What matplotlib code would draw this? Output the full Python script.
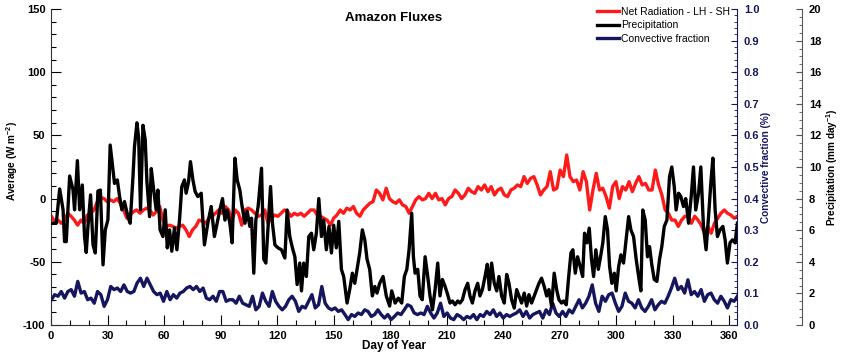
import numpy as np
import matplotlib
matplotlib.use("Agg")
import matplotlib.pyplot as plt
from matplotlib.ticker import MultipleLocator

plt.rcParams['font.family'] = ['Liberation Sans', 'DejaVu Sans']
plt.rcParams['mathtext.fontset'] = 'custom'
plt.rcParams['mathtext.rm'] = 'Liberation Sans:bold'
plt.rcParams['mathtext.default'] = 'rm'

# ---------------- data ----------------
# Net Radiation - LH - SH (W m-2), roughly every 1.75 days
net_rad = [
    -14, -18, -17, -19.5, -17, -11.6, -14, -17, -21, -17, -19.5, -13, -11.6, -9, -2.4, 1, 0, -2.4,
    -1, -2.4, 0, -3.7, -9, -15.5, -13, -10.3, -9, -11.6, -9, -7.6, -9, -13, -10.3, -6.3, -17, -22,
    -21, -22, -23.4, -22, -21, -24.7, -30, -24.7, -22, -17, -18, -19.5, -15.5, -14, -11.6,
    -9, -11.6, -6.3, -9, -17, -9, -11.6, -21, -9, -7.6, -9, -11.6, -14, -13, -9, -19.5, -15.5, -13,
    -14, -11.6, -9, -10.3, -14, -11.6, -13, -11.6, -14, -11.6, -9, -9, -13, -14, -15.5, -17, -21,
    -15.5, -13, -9, -11.6, -7.6, -9, -6.3, -11.6, -14, -9, -6.3, -3.7, -2.4, 6.8, 4.2, -1, 8.2,
    0, -2.4, -3.7, -1, -5, -6.3, -11.6, -6.3, -1, 1.6, -1, 0, 4.2, 0, 4.2, -1, 0, -5, 0, 1.6, 6.8,
    4.2, 0, 2.9, 8.2, 5.5, 4.2, 9.5, 6.8, 10.8, 5.5, 9.5, 2.9, 6.8, 8.2, 2.9, 1.6, 6.8, 8.2, 10.8,
    9.5, 17.4, 12, 16, 17.4, 10.8, 2.9, 6.8, 9.5, 21.3, 6.8, 8.2, 22.6,
    17.4, 34.5, 17.4, 13.4, 14.7, 6.8, 21.3, 13.4, -9, 6.8, 20, 6.8, 8.2, 1.6, -7.6, 9.5, 13.4, 0,
    9.5, 6.8, 13.4, 5.5, 12, 17.4, 10.8, 12, 6.8, 6.8, 22.6, 10.8, 2.9, -9, -11.6, -17, -17, -22,
    -17, -14, -14, -19.5, -14, -17, -21, -27.4, -22, -27.4, -19.5, -15.5, -11.6, -9, -11.6, -13,
    -15.5, -14,
]
net_rad_days = np.linspace(0.2, 364.2, len(net_rad))

# Convective fraction, roughly every 1.75 days
conv_frac = [
    0.080, 0.096, 0.091, 0.106, 0.085, 0.106, 0.112, 0.091, 0.138, 0.101, 0.106, 0.080, 0.085,
    0.069, 0.106, 0.096, 0.059, 0.080, 0.122, 0.112, 0.117, 0.106, 0.127, 0.106, 0.101, 0.106,
    0.133, 0.148, 0.122, 0.148, 0.127, 0.106, 0.096, 0.101, 0.075, 0.106, 0.080, 0.096, 0.085,
    0.101, 0.106, 0.117, 0.122, 0.112, 0.122, 0.106, 0.117, 0.085, 0.080, 0.091, 0.075, 0.106,
    0.106, 0.075, 0.080, 0.080, 0.069, 0.091, 0.069, 0.064, 0.059, 0.091, 0.048, 0.059, 0.101,
    0.075, 0.059, 0.106, 0.075, 0.059, 0.048, 0.059, 0.080, 0.091, 0.075, 0.043, 0.059, 0.054,
    0.075, 0.096, 0.054, 0.064, 0.122, 0.069, 0.054, 0.048, 0.054, 0.043, 0.048, 0.033, 0.017,
    0.033, 0.027, 0.038, 0.033, 0.048, 0.043, 0.027, 0.033, 0.048, 0.033, 0.022, 0.033, 0.017,
    0.027, 0.038, 0.033, 0.048, 0.064, 0.059, 0.038, 0.033, 0.038, 0.033, 0.059, 0.038, 0.022,
    0.038, 0.069, 0.027, 0.038, 0.022, 0.017, 0.033, 0.027, 0.017, 0.027, 0.022, 0.033, 0.017,
    0.033, 0.027, 0.043, 0.033, 0.048, 0.027, 0.038, 0.022, 0.033, 0.027, 0.033, 0.038, 0.048,
    0.027, 0.043, 0.022, 0.033, 0.038, 0.043, 0.022, 0.048, 0.033, 0.069, 0.038, 0.027, 0.043,
    0.027, 0.048, 0.038, 0.059, 0.080, 0.054, 0.069, 0.091, 0.127, 0.069, 0.043, 0.091, 0.075,
    0.096, 0.101, 0.069, 0.043, 0.059, 0.101, 0.075, 0.069, 0.054, 0.080, 0.054, 0.043, 0.059,
    0.080, 0.048, 0.064, 0.075, 0.069, 0.091, 0.117, 0.148, 0.112, 0.122, 0.101, 0.143, 0.096,
    0.106, 0.091, 0.112, 0.075, 0.096, 0.101, 0.080, 0.069, 0.091, 0.075, 0.054, 0.080, 0.075,
    0.091,
]
conv_days = np.linspace(0.2, 364.2, len(conv_frac))

# Precipitation (mm day-1)
precip_days = [
    0.2, 2.8, 4.6, 6.4, 7.2, 8.1, 9.9, 11.7, 12.5, 14.0, 15.2, 16.6, 17.8, 18.7, 19.6, 21.0, 22.3,
    23.5, 24.9, 26.2, 27.6, 28.8, 30.2, 31.4, 32.9, 33.7, 35.2, 36.4, 37.6, 39.0, 40.8, 42.0, 43.5,
    44.3, 45.6, 46.5, 47.5, 48.8, 50.0, 50.9, 52.3, 53.2, 54.4, 55.8, 56.7, 57.9, 59.4, 60.6, 61.7,
    62.9, 64.1, 65.5, 66.8, 68.2, 69.4, 70.8, 71.7, 73.0, 74.0, 75.3, 76.5, 77.9, 79.7, 81.4, 83.2,
    85.0, 86.7, 88.5,
    89.6, 91.0, 92.3, 93.5, 94.9, 96.1, 97.6, 98.8, 100.2, 101.4, 102.9, 104.1, 105.5, 106.4, 107.6,
    108.7, 109.9, 111.7, 112.9, 114.0, 115.2, 116.5, 117.5, 118.8, 120.5, 122.3, 124.1, 125.3,
    126.7, 128.1, 129.4, 130.6, 132.0, 132.9, 134.1, 135.5, 136.8, 138.2, 139.4, 140.8, 142.1,
    143.5, 144.7, 146.1, 147.5, 148.8, 150.0, 151.4, 152.7, 154.1, 155.3, 157.1, 158.5, 159.9,
    161.2, 162.4, 163.8, 165.2, 166.5, 167.7, 169.1, 170.5, 171.8, 173.0, 174.4, 176.2, 177.9, 179.7,
    180.8, 182.6, 184.3, 186.1, 187.5, 188.8, 190.0, 191.4, 192.3, 193.2, 194.6, 195.8, 197.0,
    198.5, 199.9, 201.1, 202.4, 203.8, 205.2, 206.4, 207.7, 209.1, 210.5, 211.7, 213.0, 214.4,
    215.8, 217.0, 218.3, 219.7, 221.1, 222.3, 223.6, 225.0, 226.4, 227.6, 228.9, 230.3, 231.5,
    232.6, 233.8, 235.2, 236.5, 237.7, 239.1, 240.5, 241.8, 243.0, 244.4, 245.8, 247.1, 248.3,
    249.7, 251.1, 252.4, 253.6, 255.0, 256.4, 257.7, 258.9, 260.3, 261.7, 263.0, 264.2, 265.6,
    267.0, 268.3, 269.5, 270.9,
    272.0, 273.4, 274.7, 275.9, 276.9, 278.2, 279.4, 280.8, 282.1, 283.1, 284.4, 285.6, 286.8,
    287.9, 289.1, 290.4, 291.6, 292.8, 294.1, 295.3, 296.4, 297.6, 298.9, 299.9, 301.2, 302.4,
    303.8, 305.0, 306.5, 307.7, 309.1, 310.5, 311.8, 313.0, 314.0, 315.3, 316.5, 317.6, 318.8,
    320.1, 321.5, 322.9, 324.1, 325.4, 326.8, 328.2, 329.4, 330.7, 331.7, 333.0, 334.2, 335.6,
    336.8, 338.3, 339.7, 340.9, 342.1, 343.6, 344.8, 346.2, 347.6, 348.9, 350.1, 351.2, 352.4,
    353.6, 355.0, 356.5, 357.7, 358.9, 360.3, 361.6, 363.0, 364.2,
]
precip = [
    6.44, 6.44, 8.61, 7.29, 5.28, 5.28, 9.43, 8.54, 7.29, 10.4, 7.29, 8.86, 5.6, 4.59, 6.24, 8.23,
    5.07, 4.56, 8.48, 8.54, 3.81, 6.02, 6.66, 11.39, 9.81, 8.96, 9.18, 8.13, 7.29, 7.81, 6.86, 6.44,
    9.39, 11.28, 12.8, 11.87, 7.29, 12.64, 11.7, 9.07, 6.86, 9.9, 8.64, 7.29, 8.54, 6.02, 5.6, 7.29,
    4.88, 6.02, 4.67, 6.14, 4.76, 6.66, 8.76, 9.18, 8.34, 9.07, 10.34, 9.18, 8.44, 8.13, 8.34, 5.07,
    6.44, 7.5, 5.6, 6.66,
    7.29, 8.0, 6.64, 7.28, 6.44, 5.2, 10.56, 9.18, 8.54, 7.5, 6.44, 7.2, 6.24, 6.76, 3.28, 6.66, 7.5,
    9.92, 4.16, 3.92, 6.24, 8.76, 6.44, 5.07, 4.88, 4.76, 4.24, 7.28, 5.6, 4.88, 4.32, 2.56, 3.92,
    2.16, 3.92, 3.07, 5.6, 5.81, 4.76, 5.81, 8.0, 5.6, 6.64, 4.76, 6.24, 4.56, 6.32, 4.88, 6.56,
    3.52, 3.07, 1.39, 2.24, 3.28, 2.64, 3.52, 4.56, 6.02, 5.39, 4.16, 3.52, 1.84, 2.44, 2.02, 2.64,
    3.07, 1.84, 1.2,
    2.16, 1.39, 1.7, 1.39, 3.07, 3.52, 4.76, 7.07, 4.32, 3.28, 3.52, 1.84, 1.6, 4.32, 3.07, 1.84,
    0.96, 2.24, 3.92, 1.84, 2.88, 2.44, 1.92, 1.39, 1.52, 1.28, 1.52, 1.39, 1.6, 2.24, 2.64, 1.84,
    1.39, 2.16, 2.64, 1.84, 2.24, 3.07, 3.84, 2.24, 3.92, 2.64, 2.16, 3.07, 1.84, 1.39, 3.2, 2.64,
    1.6, 1.07, 2.24, 1.84, 1.39, 2.02, 1.2, 1.92, 1.39, 1.84, 2.24, 2.64, 2.96, 2.44, 1.84, 2.24,
    1.2, 3.28, 2.24, 1.6, 1.39,
    1.52, 1.28, 3.07, 4.56, 4.76, 3.28, 4.32, 3.7, 3.07, 5.81, 5.2, 6.13, 4.16, 3.07, 4.76, 3.52,
    4.32, 5.2, 6.86, 6.02, 3.7, 2.64, 3.28, 2.16, 3.7, 4.44, 3.92, 5.2, 6.86, 6.02, 5.6, 4.16, 3.07,
    2.16, 7.28, 6.64, 4.32, 4.96, 3.81, 2.88, 2.76, 4.16, 4.96, 6.24, 6.64, 9.39, 10.0, 8.76, 7.28,
    8.34, 8.13, 7.5, 8.0, 6.44, 8.13, 10.0, 7.28, 8.34, 10.0, 6.24, 4.76, 6.86, 8.96, 10.56, 7.28,
    5.6, 6.02, 6.24, 5.39, 3.92, 5.2, 5.39, 5.2, 6.44,
]

x_ticks = [0, 30, 60, 90, 120, 150, 180, 210, 240, 270, 300, 330, 360]
left_ticks = [-100, -50, 0, 50, 100, 150]
conv_ticks = [0.0, 0.1, 0.2, 0.3, 0.4, 0.5, 0.6, 0.7, 0.8, 0.9, 1.0]
precip_ticks = [0, 2, 4, 6, 8, 10, 12, 14, 16, 18, 20]

RED = '#ff1a1a'
NAVY = '#16165e'
BLACK = '#000000'

# ---------------- figure ----------------
fig = plt.figure(figsize=(8.5, 3.54), dpi=100)
W, H = 850, 354
x0, x1, ytop, ybot = 51, 737, 9, 325
ax = fig.add_axes([x0 / W, 1 - ybot / H, (x1 - x0) / W, (ybot - ytop) / H])
ax_c = ax.twinx()
ax_p = ax.twinx()

LW = 2.4
l1, = ax.plot(net_rad_days, net_rad, color=RED, lw=LW, label='Net Radiation - LH - SH')
l3, = ax_c.plot(conv_days, conv_frac, color=NAVY, lw=LW, label='Convective fraction')
l2, = ax_p.plot(precip_days, precip, color=BLACK, lw=LW, label='Precipitation')

ax.set_xlim(0, 364)
ax.set_ylim(-100, 150)
ax_c.set_ylim(0, 1.0)
ax_p.set_ylim(0, 20)

lab_kw = dict(fontsize=8, fontweight='bold')
ROT_FS = 7.2

# main axis
ax.set_xticks(x_ticks)
ax.set_xticklabels([str(t) for t in x_ticks], **lab_kw)
ax.xaxis.set_minor_locator(MultipleLocator(10))
ax.set_yticks(left_ticks)
ax.set_yticklabels([str(t) for t in left_ticks], **lab_kw)
ax.yaxis.set_minor_locator(MultipleLocator(10))
ax.tick_params(axis='both', which='major', direction='in', length=7, width=0.8, pad=4,
               top=False, right=False)
ax.tick_params(axis='both', which='minor', direction='in', length=3.5, width=0.8,
               top=False, right=False)
for s in ['top', 'right']:
    ax.spines[s].set_visible(False)
for s in ['left', 'bottom']:
    ax.spines[s].set_color('#333333')
ax.set_xlabel('Day of Year', fontsize=8.5, fontweight='bold')
ax.xaxis.set_label_coords(0.5, -0.065)
ax.xaxis.label.set_va('center')
ax.set_ylabel('Average (W m$^{-2}$)', fontsize=ROT_FS, fontweight='bold')
ax.yaxis.set_label_coords(-0.057, 0.52)
ax.yaxis.label.set_va('center')

# convective fraction axis
for s in ['top', 'left', 'bottom']:
    ax_c.spines[s].set_visible(False)
ax_c.spines['right'].set_color(NAVY)
ax_c.set_yticks(conv_ticks)
ax_c.set_yticklabels([f'{t:.1f}' for t in conv_ticks], color=NAVY, **lab_kw)
ax_c.yaxis.set_minor_locator(MultipleLocator(0.02))
ax_c.tick_params(axis='y', which='major', direction='in', length=4, width=0.8, pad=5, colors=NAVY)
ax_c.tick_params(axis='y', which='minor', direction='in', length=2, width=0.6, colors=NAVY)
ax_c.set_ylabel('Convective fraction (%)', color=NAVY, fontsize=ROT_FS, fontweight='bold')
ax_c.yaxis.set_label_coords(1.043, 0.5)
ax_c.yaxis.label.set_va('center')

# precipitation axis
for s in ['top', 'left', 'bottom']:
    ax_p.spines[s].set_visible(False)
ax_p.spines['right'].set_position(('outward', 65 * 72 / 100))
ax_p.spines['right'].set_color('#555555')
ax_p.set_yticks(precip_ticks)
ax_p.set_yticklabels([str(t) for t in precip_ticks], **lab_kw)
ax_p.yaxis.set_minor_locator(MultipleLocator(0.5))
ax_p.tick_params(axis='y', which='major', direction='in', length=4, width=0.8, pad=5,
                 colors='#555555', labelcolor='black')
ax_p.tick_params(axis='y', which='minor', direction='in', length=2, width=0.6, colors='#555555')
ax_p.set_ylabel('Precipitation (mm day$^{-1}$)', fontsize=ROT_FS, fontweight='bold')
ax_p.yaxis.set_label_coords(1.1385, 0.5)
ax_p.yaxis.label.set_va('center')

# title
ax.text(0.5, 0.972, 'Amazon Fluxes', transform=ax.transAxes, ha='center', va='center',
        fontsize=9.5, fontweight='bold')

# legend
fig.legend(handles=[l1, l2, l3], loc='upper left', bbox_to_anchor=(597 / W, 1 - 7 / H),
           frameon=False, fontsize=7.5, handlelength=2.1, handletextpad=0.2,
           labelspacing=0.32, borderpad=0, borderaxespad=0)

fig.savefig('out.png', dpi=100)
